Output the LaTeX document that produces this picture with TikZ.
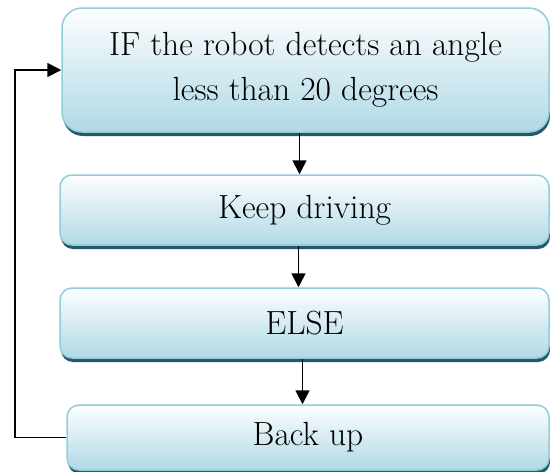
\documentclass[tikz,border=0pt]{standalone}
\usetikzlibrary{arrows.meta,shadows}
\definecolor{boxtop}{RGB}{253,254,255}
\definecolor{boxbot}{RGB}{176,217,229}
\definecolor{boxline}{RGB}{146,205,220}
\definecolor{boxshadow}{RGB}{38,88,104}
\begin{document}
\begin{tikzpicture}[x=1pt,y=-1pt,
  flowbox/.style={rectangle, rounded corners=#1, draw=boxline, line width=1.5pt,
    top color=boxtop, bottom color=boxbot, inner sep=0pt, align=center,
    font=\fontsize{33.5}{45}\selectfont,
    drop shadow={shadow xshift=1pt, shadow yshift=-4pt, fill=boxshadow, opacity=1}},
  flowbox/.default=12pt,
  arr/.style={line width=1.8pt, -{Triangle[width=14pt,length=14pt]}}]
\useasboundingbox (0,0) rectangle (550,472);
\node[flowbox=20pt, minimum width=487pt, minimum height=124pt] (B1) at (305.5,70) {IF the robot detects an angle\\less than 20 degrees};
\node[flowbox, minimum width=489pt, minimum height=70pt] (B2) at (304.5,210) {Keep driving};
\node[flowbox, minimum width=489pt, minimum height=70pt] (B3) at (304.5,323) {ELSE};
\node[flowbox, minimum width=482pt, minimum height=65pt] (B4) at (308,437.5) {Back up};
\coordinate (loop) at (15,0);
\draw[arr] ([xshift=-6pt]B1.south) -- ([xshift=-6pt]B1.south |- B2.north);
\draw[arr] ([xshift=-6pt]B2.south) -- ([xshift=-6pt]B2.south |- B3.north);
\draw[arr] ([xshift=-2pt]B3.south) -- ([xshift=-2pt]B3.south |- B4.north);
\draw[arr] (B4.west) -- (B4.west -| loop) -- (B1.west -| loop) -- (B1.west);
\end{tikzpicture}
\end{document}
